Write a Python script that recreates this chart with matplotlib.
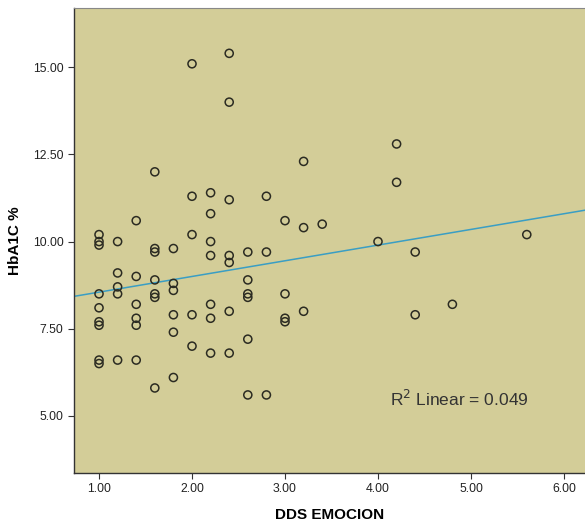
import numpy as np
import matplotlib.pyplot as plt

plt.rcParams['font.family'] = ['Liberation Sans', 'DejaVu Sans']

# DDS EMOCION vs HbA1C %
dds = [1.0, 1.0, 1.0, 1.0, 1.0, 1.0, 1.0, 1.0, 1.0,
       1.2, 1.2, 1.2, 1.2, 1.2,
       1.4, 1.4, 1.4, 1.4, 1.4, 1.4,
       1.6, 1.6, 1.6, 1.6, 1.6, 1.6, 1.6,
       1.8, 1.8, 1.8, 1.8, 1.8, 1.8,
       2.0, 2.0, 2.0, 2.0, 2.0,
       2.2, 2.2, 2.2, 2.2, 2.2, 2.2, 2.2,
       2.4, 2.4, 2.4, 2.4, 2.4, 2.4, 2.4,
       2.6, 2.6, 2.6, 2.6, 2.6, 2.6,
       2.8, 2.8, 2.8,
       3.0, 3.0, 3.0, 3.0,
       3.2, 3.2, 3.2,
       3.4, 4.0, 4.2, 4.2, 4.4, 4.4, 4.8, 5.6]
hba1c = [10.2, 10.0, 9.9, 8.5, 8.1, 7.7, 7.6, 6.6, 6.5,
         10.0, 9.1, 8.7, 8.5, 6.6,
         10.6, 9.0, 8.2, 7.8, 7.6, 6.6,
         12.0, 9.8, 9.7, 8.9, 8.5, 8.4, 5.8,
         9.8, 8.8, 8.6, 7.9, 7.4, 6.1,
         15.1, 11.3, 10.2, 7.9, 7.0,
         11.4, 10.8, 10.0, 9.6, 8.2, 7.8, 6.8,
         15.4, 14.0, 11.2, 9.6, 9.4, 8.0, 6.8,
         9.7, 8.9, 8.5, 8.4, 7.2, 5.6,
         11.3, 9.7, 5.6,
         10.6, 8.5, 7.8, 7.7,
         12.3, 10.4, 8.0,
         10.5, 10.0, 12.8, 11.7, 9.7, 7.9, 8.2, 10.2]
r2_label = "R$^2$ Linear = 0.049"

x = np.array(dds)
y = np.array(hba1c)

fig = plt.figure(figsize=(5.85, 5.21), dpi=100)
ax = fig.add_axes([0.1265, 0.0921, 0.8735, 0.8925])
ax.set_facecolor('#D3CD98')

ax.scatter(x, y, s=34, facecolors='none', edgecolors='#2b2b22', linewidths=1.1, zorder=3)

# linear fit line
b, a = np.polyfit(x, y, 1)
xl = np.array([0.7, 6.3])
ax.plot(xl, a + b * xl, color='#3a9ec4', lw=1.1, zorder=2)

ax.text(4.13, 5.49, r2_label, fontsize=12.5, color='#333333', va='center', ha='left')

ax.set_xlim(0.731, 6.226)
ax.set_ylim(3.36, 16.70)
ax.set_xticks([1, 2, 3, 4, 5, 6])
ax.set_xticklabels(['1.00', '2.00', '3.00', '4.00', '5.00', '6.00'])
ax.set_yticks([5, 7.5, 10, 12.5, 15])
ax.set_yticklabels(['5.00', '7.50', '10.00', '12.50', '15.00'])
ax.tick_params(labelsize=8.8, length=4, width=0.8, color='#333333', labelcolor='#222222')

for s in ['left', 'bottom']:
    ax.spines[s].set_color('#333333')
    ax.spines[s].set_linewidth(1.0)
ax.spines['top'].set_color('#888888')
ax.spines['right'].set_visible(False)

ax.set_xlabel('DDS EMOCION', fontsize=11, fontweight='bold', labelpad=9)
ax.set_ylabel('HbA1C %', fontsize=11, fontweight='bold', labelpad=8)

fig.savefig('out.png', dpi=100)
